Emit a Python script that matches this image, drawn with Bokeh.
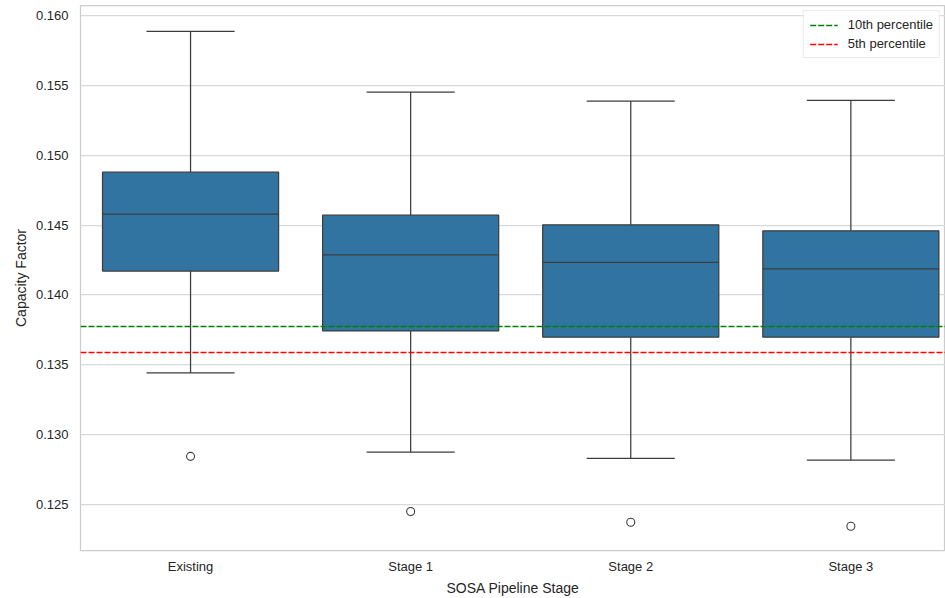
from bokeh.plotting import figure
from bokeh.models import Range1d, FixedTicker, NumeralTickFormatter, Legend, LegendItem, ColumnDataSource
from bokeh.embed import file_html
from bokeh.resources import INLINE

# Capacity factor distribution per SOSA pipeline stage (box-plot summary)
categories = ["Existing", "Stage 1", "Stage 2", "Stage 3"]
upper_whisker = [0.15886, 0.15452, 0.15388, 0.15393]
q3 = [0.14879, 0.14571, 0.14502, 0.14459]
median = [0.14579, 0.14286, 0.14234, 0.14186]
q1 = [0.14171, 0.13743, 0.13698, 0.13698]
lower_whisker = [0.13443, 0.12876, 0.12831, 0.12819]
outliers = [0.12845, 0.12450, 0.12374, 0.12345]

# Reference percentiles drawn as horizontal lines
p10 = 0.13774
p5 = 0.13589

y_ticks = [0.125, 0.130, 0.135, 0.140, 0.145, 0.150, 0.155, 0.160]

FONT = "Liberation Sans"
TEXT = "#262626"
EDGE = "#3d3d3d"
BOX = "#3274a1"
GRID = "#d9d9d9"

xs = list(range(len(categories)))
box_width = 0.8
cap_width = 0.4

src = ColumnDataSource(dict(
    x=xs, uw=upper_whisker, q3=q3, med=median, q1=q1, lw=lower_whisker,
    cap_l=[x - cap_width / 2 for x in xs], cap_r=[x + cap_width / 2 for x in xs],
    box_l=[x - box_width / 2 for x in xs], box_r=[x + box_width / 2 for x in xs],
))
out_src = ColumnDataSource(dict(x=xs, y=outliers))

p = figure(
    width=945, height=598,
    x_range=Range1d(-0.5, 3.43), y_range=Range1d(0.121714, 0.160714),
    output_backend="svg", toolbar_location=None,
    min_border_left=80, min_border_right=0, min_border_top=5, min_border_bottom=47,
)
p.background_fill_color = "white"
p.border_fill_color = "white"
p.outline_line_color = "#cccccc"
p.outline_line_width = 1.25

# whiskers
p.segment(x0="x", y0="q3", x1="x", y1="uw", source=src, line_color=EDGE, line_width=1.25)
p.segment(x0="x", y0="q1", x1="x", y1="lw", source=src, line_color=EDGE, line_width=1.25)
p.segment(x0="cap_l", y0="uw", x1="cap_r", y1="uw", source=src, line_color=EDGE, line_width=1.25)
p.segment(x0="cap_l", y0="lw", x1="cap_r", y1="lw", source=src, line_color=EDGE, line_width=1.25)

# boxes and medians
p.vbar(x="x", width=box_width, top="q3", bottom="q1", source=src,
       fill_color=BOX, line_color=EDGE, line_width=1.25)
p.segment(x0="box_l", y0="med", x1="box_r", y1="med", source=src, line_color=EDGE, line_width=1.25)

# fliers
p.scatter(x="x", y="y", source=out_src, marker="circle", size=8,
          fill_color=None, line_color=EDGE, line_width=1.1)

# percentile reference lines
r10 = p.line(x=[-0.5, 3.5], y=[p10, p10], line_color="green", line_width=1.5, line_dash="6 2")
r5 = p.line(x=[-0.5, 3.5], y=[p5, p5], line_color="red", line_width=1.5, line_dash="6 2")

legend = Legend(items=[LegendItem(label="10th percentile", renderers=[r10]),
                       LegendItem(label="5th percentile", renderers=[r5])],
                location="top_right")
legend.label_text_font = FONT
legend.label_text_font_size = "13px"
legend.label_text_color = TEXT
legend.glyph_width = 28
legend.glyph_height = 14
legend.label_standoff = 10
legend.spacing = 4
legend.padding = 6
legend.margin = 5
legend.border_line_color = "#d6d6d6"
legend.border_line_width = 1
legend.background_fill_alpha = 0.9
p.add_layout(legend)

# axes
p.xaxis.ticker = FixedTicker(ticks=xs)
p.xaxis.major_label_overrides = {i: c for i, c in enumerate(categories)}
p.yaxis.ticker = FixedTicker(ticks=y_ticks)
p.yaxis.formatter = NumeralTickFormatter(format="0.000")

p.xaxis.axis_label = "SOSA Pipeline Stage"
p.yaxis.axis_label = "Capacity Factor"
for ax in (p.xaxis, p.yaxis):
    ax.axis_line_color = None
    ax.major_tick_line_color = None
    ax.minor_tick_line_color = None
    ax.major_tick_out = 0
    ax.major_tick_in = 0
    ax.minor_tick_out = 0
    ax.minor_tick_in = 0
    ax.major_label_text_font = FONT
    ax.major_label_text_font_size = "13px"
    ax.major_label_text_color = TEXT
    ax.axis_label_text_font = FONT
    ax.axis_label_text_font_size = "14px"
    ax.axis_label_text_font_style = "normal"
    ax.axis_label_text_color = TEXT
p.xaxis.major_label_standoff = 8
p.yaxis.major_label_standoff = 12
p.xaxis.axis_label_standoff = 3
p.yaxis.axis_label_standoff = 4

p.xgrid.grid_line_color = None
p.ygrid.grid_line_color = GRID
p.ygrid.grid_line_width = 1.25

open("out.html", "w").write(file_html(p, INLINE))
